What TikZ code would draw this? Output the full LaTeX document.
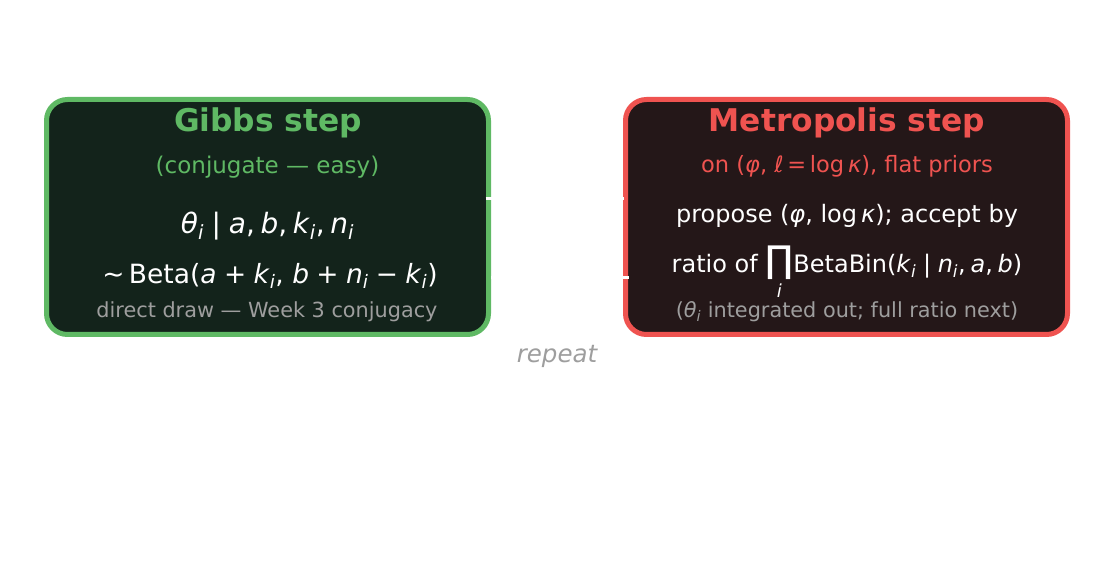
\documentclass[tikz,border=0pt]{standalone}
\usepackage{amsmath}
\usepackage{fontspec}
\setmainfont{DejaVu Sans}
\usetikzlibrary{arrows.meta}
\definecolor{gGreen}{HTML}{5FB964}
\definecolor{gRed}{HTML}{EF5350}
\definecolor{gDarkG}{HTML}{13231B}
\definecolor{gDarkR}{HTML}{241718}
\definecolor{gGray}{HTML}{9E9E9E}
\newcommand\vv[1]{\textit{#1}}
\newcommand\su[1]{\textsubscript{\textit{#1}}}
\newcommand\cm{,\kern0.2em}
\tikzset{
  stepbox/.style={rounded corners=21pt, line width=5pt, minimum width=442pt, minimum height=235pt, outer sep=0pt},
  title/.style={font=\fontsize{31.3}{36}\selectfont\bfseries},
  subt/.style={font=\fontsize{23}{27}\selectfont},
  body/.style={font=\fontsize{24}{28}\selectfont, text=white},
  mathl/.style={font=\fontsize{28}{33}\selectfont, text=white},
  foot/.style={font=\fontsize{20.8}{24}\selectfont, text=gGray},
  conn/.style={draw=white, line width=3pt},
}
\begin{document}
\begin{tikzpicture}[x=1pt,y=1pt]
\useasboundingbox (0,0) rectangle (1114,576);
% boxes
\node[stepbox, draw=gGreen, fill=gDarkG] (gibbs) at (267.5,359) {};
\node[stepbox, draw=gRed, fill=gDarkR] (metro) at (846.5,359) {};
% connectors (white)
\draw[conn] ([yshift=18pt,xshift=-3pt]gibbs.east) -- ([yshift=18pt,xshift=-2pt]metro.west);
\draw[conn] ([yshift=-61pt,xshift=3pt]metro.west) -- ([yshift=-61pt,xshift=2pt]gibbs.east);
% Gibbs texts
\node[title, text=gGreen] (gt) at (268,453) {Gibbs step};
\node[subt, text=gGreen] (gs) at (267.5,409) {(conjugate — easy)};
\node[mathl] (g1) at (267.5,350) {\vv{θ}\su{i}\;|\;\vv{a}\cm\vv{b}\cm\vv{k}\su{i}\cm\vv{n}\su{i}};
\node[mathl, font=\fontsize{26.5}{30}\selectfont] (g2) at (270,300) {∼\,Beta(\vv{a}\;+\;\vv{k}\su{i}, \vv{b}\;+\;\vv{n}\su{i}\;−\;\vv{k}\su{i})};
\node[foot] (gf) at (267,264) {direct draw — Week 3 conjugacy};
% Metropolis texts
\node[title, text=gRed] (mt) at (847,453) {Metropolis step};
\node[subt, text=gRed, font=\fontsize{22.5}{27}\selectfont] (ms) at (847,410) {on (\vv{φ}, \vv{ℓ}\,=\,log\,\vv{κ}), flat priors};
\node[body] (m1) at (847,360) {propose (\vv{φ}, log\,\vv{κ}); accept by};
\node[body, anchor=base] (m2) at (847,303) {ratio of $\underset{\text{\itshape\fontsize{18}{20}\selectfont i}}{\text{\fontsize{37}{40}\selectfont ∏}}$BetaBin(\vv{k}\su{i}\;|\;\vv{n}\su{i}\cm\vv{a}\cm\vv{b})};
\node[foot] (mf) at (847,264) {(\vv{θ}\su{i} integrated out; full ratio next)};
% repeat
\node[font=\fontsize{24.5}{28}\selectfont\itshape, text=gGray] (rep) at (557,220) {repeat};
\end{tikzpicture}
\end{document}
